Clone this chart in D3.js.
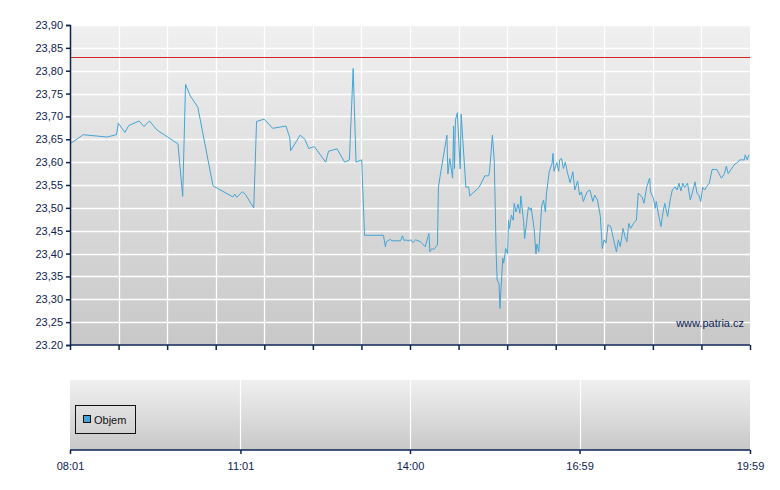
<!DOCTYPE html>
<html>
<head>
<meta charset="utf-8">
<script src="https://cdn.jsdelivr.net/npm/d3@7"></script>
<style>
  html, body { margin: 0; padding: 0; background: #ffffff; }
  svg { display: block; font-family: "Liberation Sans", Arial, sans-serif; }
</style>
</head>
<body>
<svg id="chart" width="780" height="490"></svg>
<script>
// ---- data ----
const times = ["08:01","08:15","08:40","08:50","08:52","08:59","09:03","09:14","09:19","09:25","09:33","09:55","10:00","10:03","10:08","10:16","10:32","10:53","10:55","10:57","11:03","11:06","11:15","11:18","11:26","11:35","11:49","11:53","11:54","12:04","12:09","12:13","12:19","12:31","12:34","12:43","12:51","12:56","13:00","13:03","13:09","13:12","13:32","13:34","13:35","13:39","13:41","13:50","13:52","13:54","13:56","13:58","14:01","14:03","14:06","14:11","14:16","14:20","14:21","14:23","14:25","14:29","14:30","14:32","14:39","14:40","14:42","14:45","14:46","14:47","14:48","14:50","14:53","14:54","14:59","15:02","15:03","15:13","15:19","15:23","15:24","15:27","15:29","15:31","15:32","15:34","15:35","15:36","15:38","15:39","15:41","15:43","15:44","15:45","15:47","15:49","15:50","15:52","15:54","15:56","15:57","16:00","16:01","16:03","16:05","16:07","16:08","16:11","16:13","16:14","16:16","16:19","16:21","16:23","16:24","16:27","16:30","16:31","16:32","16:35","16:37","16:38","16:40","16:42","16:44","16:46","16:49","16:52","16:54","16:57","16:59","17:01","17:03","17:07","17:10","17:13","17:15","17:18","17:21","17:23","17:25","17:27","17:29","17:32","17:35","17:38","17:40","17:42","17:45","17:47","17:49","17:51","17:53","17:56","17:59","18:01","18:05","18:07","18:10","18:13","18:14","18:17","18:19","18:20","18:22","18:25","18:27","18:29","18:32","18:35","18:37","18:40","18:42","18:44","18:46","18:48","18:50","18:53","18:56","18:58","19:01","19:03","19:05","19:07","19:09","19:11","19:13","19:16","19:19","19:24","19:27","19:29","19:32","19:34","19:36","19:39","19:41","19:43","19:46","19:48","19:53","19:54","19:56","19:58"];
const prices = [23.640,23.660,23.655,23.660,23.685,23.665,23.680,23.690,23.678,23.690,23.670,23.640,23.525,23.770,23.745,23.720,23.548,23.524,23.530,23.523,23.535,23.530,23.500,23.689,23.694,23.674,23.679,23.654,23.625,23.659,23.650,23.630,23.634,23.600,23.624,23.629,23.600,23.605,23.805,23.600,23.605,23.440,23.440,23.415,23.426,23.431,23.428,23.428,23.439,23.428,23.430,23.428,23.430,23.424,23.430,23.426,23.415,23.444,23.404,23.411,23.409,23.419,23.545,23.572,23.659,23.574,23.608,23.565,23.679,23.586,23.692,23.708,23.585,23.705,23.545,23.546,23.526,23.545,23.570,23.570,23.580,23.659,23.601,23.400,23.342,23.335,23.280,23.320,23.390,23.379,23.411,23.400,23.473,23.455,23.484,23.473,23.510,23.491,23.508,23.488,23.526,23.470,23.433,23.465,23.502,23.495,23.500,23.455,23.399,23.421,23.404,23.504,23.517,23.491,23.530,23.579,23.597,23.619,23.580,23.599,23.580,23.605,23.608,23.586,23.600,23.579,23.555,23.579,23.539,23.559,23.528,23.535,23.514,23.535,23.539,23.514,23.528,23.517,23.481,23.411,23.430,23.423,23.463,23.459,23.430,23.404,23.430,23.415,23.455,23.437,23.426,23.466,23.455,23.466,23.473,23.532,23.524,23.510,23.546,23.565,23.535,23.521,23.499,23.514,23.490,23.459,23.488,23.510,23.481,23.521,23.539,23.546,23.539,23.554,23.537,23.554,23.545,23.554,23.517,23.532,23.557,23.532,23.528,23.514,23.545,23.539,23.546,23.554,23.584,23.584,23.572,23.565,23.575,23.591,23.575,23.584,23.590,23.596,23.599,23.605,23.605,23.616,23.605,23.616];
const referencePrice = 23.83;
const yTickValues = [23.20,23.25,23.30,23.35,23.40,23.45,23.50,23.55,23.60,23.65,23.70,23.75,23.80,23.85,23.90];
const yTickLabels = ["23.20","23,25","23,30","23,35","23,40","23,45","23,50","23,55","23,60","23,65","23,70","23,75","23,80","23,85","23,90"];
const timeStart = "08:01";
const timeEnd = "19:59";
const mainTickCount = 14;
const volumeTickLabels = ["08:01","11:01","14:00","16:59","19:59"];
const legendLabel = "Objem";
const watermark = "www.patria.cz";

// ---- helpers ----
const parseT = d3.timeParse("%H:%M");
const series = times.map((t, i) => ({ t: parseT(t), v: prices[i] }));

const svg = d3.select("#chart");
const navy = "#0d2254";
const lineColor = "#45a4d3";

const left = 70, right = 750;
const mainTop = 25, mainBottom = 345;
const volTop = 380, volBottom = 450;

const x = d3.scaleTime().domain([parseT(timeStart), parseT(timeEnd)]).range([left, right]);
const y = d3.scaleLinear().domain([23.20, 23.90]).range([mainBottom, mainTop]);

// gradients
const defs = svg.append("defs");
function grad(id) {
  const g = defs.append("linearGradient").attr("id", id).attr("x1", 0).attr("y1", 0).attr("x2", 0).attr("y2", 1);
  g.append("stop").attr("offset", "0%").attr("stop-color", "#f0f0f0");
  g.append("stop").attr("offset", "100%").attr("stop-color", "#c8c8c8");
}
grad("gMain"); grad("gVol");

// ---- main panel ----
svg.append("rect").attr("x", left).attr("y", mainTop).attr("width", right - left).attr("height", mainBottom - mainTop).attr("fill", "url(#gMain)");

const t0 = parseT(timeStart).getTime(), t1 = parseT(timeEnd).getTime();
const mainTicks = d3.range(mainTickCount + 1).map(i => new Date(t0 + (t1 - t0) * i / mainTickCount));

// grid
const grid = svg.append("g").attr("stroke", "#ffffff").attr("stroke-width", 1.3);
yTickValues.forEach(v => {
  grid.append("line").attr("x1", left).attr("x2", right).attr("y1", Math.round(y(v)) + 0.5).attr("y2", Math.round(y(v)) + 0.5);
});
mainTicks.slice(1, -1).forEach(t => {
  grid.append("line").attr("x1", Math.round(x(t)) + 0.5).attr("x2", Math.round(x(t)) + 0.5).attr("y1", mainTop).attr("y2", mainBottom);
});

// reference line
const yRef = Math.round(y(referencePrice)) + 0.5;
svg.append("line").attr("x1", left).attr("x2", right)
  .attr("y1", yRef).attr("y2", yRef)
  .attr("stroke", "#d42424").attr("stroke-width", 1);

// price line
const line = d3.line().x(d => x(d.t)).y(d => y(d.v));
svg.append("path").datum(series).attr("d", line)
  .attr("fill", "none").attr("stroke", lineColor).attr("stroke-width", 1).attr("stroke-linejoin", "round");

// y axis
const yAxis = d3.axisLeft(y).tickValues(yTickValues).tickSize(4).tickPadding(3)
  .tickFormat((d, i) => yTickLabels[i]);
const gy = svg.append("g").attr("transform", `translate(${left},0)`).call(yAxis);
gy.select(".domain").attr("stroke", navy).attr("stroke-width", 1.5);
gy.selectAll(".tick line").attr("stroke", navy).attr("stroke-width", 1.5);
gy.selectAll(".tick text").attr("fill", navy).style("font-size", "11px").style("font-family", "'Liberation Sans', Arial, sans-serif");

// x axis for main (no labels)
const xAxisMain = d3.axisBottom(x).tickValues(mainTicks).tickSize(5).tickFormat("");
const gxm = svg.append("g").attr("transform", `translate(0,${mainBottom})`).call(xAxisMain);
gxm.select(".domain").attr("stroke", navy).attr("stroke-width", 1.5).attr("d", `M${left},0H${right}`);
gxm.selectAll(".tick line").attr("stroke", navy).attr("stroke-width", 1.5);

// watermark
svg.append("text").attr("x", 744).attr("y", 327).attr("text-anchor", "end")
  .attr("fill", navy).style("font-size", "11px").text(watermark);

// ---- volume panel ----
svg.append("rect").attr("x", left).attr("y", volTop).attr("width", right - left).attr("height", volBottom - volTop).attr("fill", "url(#gVol)");

const volTicks = volumeTickLabels.map(parseT);
const vgrid = svg.append("g").attr("stroke", "#ffffff").attr("stroke-width", 1.2);
volTicks.slice(1, -1).forEach(t => {
  vgrid.append("line").attr("x1", Math.round(x(t)) + 0.5).attr("x2", Math.round(x(t)) + 0.5).attr("y1", volTop).attr("y2", volBottom);
});

const xAxisVol = d3.axisBottom(x).tickValues(volTicks).tickSize(4).tickPadding(8)
  .tickFormat((d, i) => volumeTickLabels[i]);
const gxv = svg.append("g").attr("transform", `translate(0,${volBottom})`).call(xAxisVol);
gxv.select(".domain").attr("stroke", navy).attr("stroke-width", 1.5).attr("d", `M${left},0H${right}`);
gxv.selectAll(".tick line").attr("stroke", navy).attr("stroke-width", 1.5);
gxv.selectAll(".tick text").attr("fill", navy).style("font-size", "11px").style("font-family", "'Liberation Sans', Arial, sans-serif");

// legend
const lg = svg.append("g");
lg.append("rect").attr("x", 75.5).attr("y", 405.5).attr("width", 60).attr("height", 28)
  .attr("fill", "none").attr("stroke", "#111111").attr("stroke-width", 1);
lg.append("rect").attr("x", 83.5).attr("y", 415.5).attr("width", 7).attr("height", 7)
  .attr("fill", lineColor).attr("stroke", "#111111").attr("stroke-width", 1);
lg.append("text").attr("x", 94).attr("y", 424).attr("fill", "#111111").style("font-size", "11px").text(legendLabel);
</script>
</body>
</html>
